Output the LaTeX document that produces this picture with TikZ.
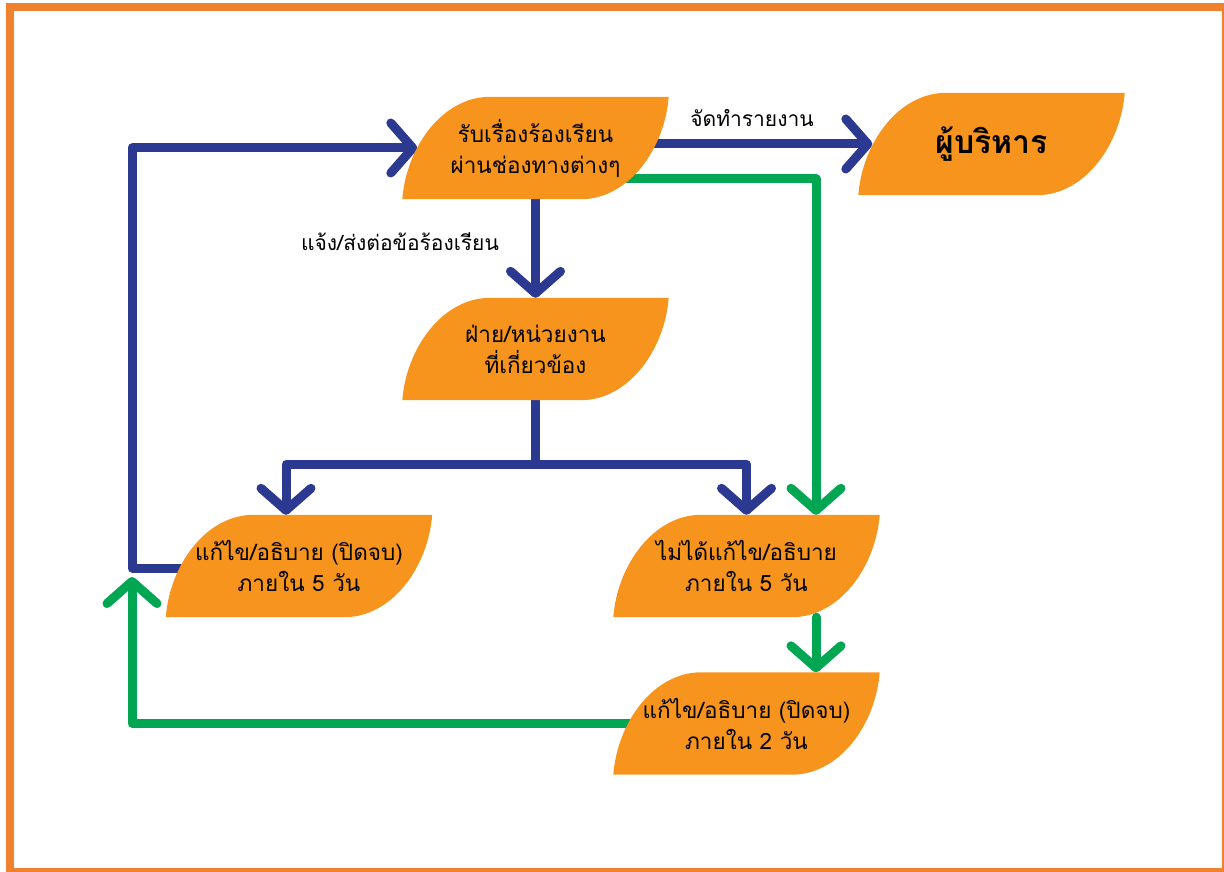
\documentclass[tikz,border=0pt]{standalone}
\usepackage{fontspec}
\newfontfamily\thai[Script=Thai]{Loma}
\usetikzlibrary{arrows.meta,calc}
\definecolor{leafc}{HTML}{F7941D}
\definecolor{bluec}{HTML}{2B3990}
\definecolor{greenc}{HTML}{00A651}
\definecolor{framec}{HTML}{F0812F}
\pgfdeclarelayer{bg}
\pgfdeclarelayer{leaves}
\pgfsetlayers{bg,leaves,main}
\newcommand\leafshape[1]{%
  \fill[leafc] (#1.south west) .. controls ($(#1.south west)+(4pt,52pt)$) and ($(#1.north west)+(40pt,0pt)$) .. ($(#1.north west)+(88pt,0pt)$)
    -- (#1.north east) .. controls ($(#1.north east)+(-4pt,-52pt)$) and ($(#1.south east)+(-40pt,0pt)$) .. ($(#1.south east)+(-88pt,0pt)$) -- cycle;}
\begin{document}
\begin{tikzpicture}[x=1pt,y=-1pt,
  box/.style={minimum width=266pt,minimum height=102pt,inner sep=0pt,align=center,font=\thai\fontsize{22.5}{31}\selectfont},
  lbl/.style={font=\thai\fontsize{21}{26}\selectfont,inner sep=0pt},
  conn/.style={line width=9pt,line join=round,line cap=round},
  bl/.style={conn,draw=bluec},
  gr/.style={conn,draw=greenc},
  arr/.style={-{Straight Barb[length=22pt,width=50pt,round]}}]
\useasboundingbox (0,0) rectangle (1224,872);
\draw[framec,line width=8pt] (10,7) rectangle (1226,872);

\node[box] (b1) at (535.5,148) {รับเรื่องร้องเรียน\\ผ่านช่องทางต่างๆ};
\node[box,font=\thai\bfseries\fontsize{32}{36}\selectfont] (b2) at (991.5,144) {ผู้บริหาร};
\node[box] (b3) at (535.5,349) {ฝ่าย/หน่วยงาน\\ที่เกี่ยวข้อง};
\node[box] (b4) at (299,566) {แก้ไข/อธิบาย (ปิดจบ)\\ภายใน 5 วัน};
\node[box] (b5) at (746.5,566) {ไม่ได้แก้ไข/อธิบาย\\ภายใน 5 วัน};
\node[box] (b6) at (746.5,723.5) {แก้ไข/อธิบาย (ปิดจบ)\\ภายใน 2 วัน};

\node[lbl] (l1) at (752,118) {จัดทำรายงาน};
\node[lbl] (l2) at (400,242) {แจ้ง/ส่งต่อข้อร้องเรียน};

\begin{pgfonlayer}{leaves}
\foreach \n in {b1,b2,b3,b4,b5,b6} {\leafshape{\n}}
\end{pgfonlayer}

\coordinate (c1) at (132,148);
\coordinate (c2) at (132,577);
\coordinate (g1) at (816,179);
\coordinate (j) at (535.5,464);

\begin{pgfonlayer}{bg}
\draw[gr,arr] (b6.center) -| (c2);
\draw[bl,arr] ($(b4.center)+(0pt,-2pt)$) -| (c1) -- ($(b1.west)+(15pt,0pt)$);
\draw[bl,arr] (b1.center |- b2.west) -- ($(b2.west)+(14pt,0pt)$);
\draw[gr,arr] ($(b1.center)+(0pt,-31pt)$) -- (g1) -- ($(b5.north)+(69.5pt,0pt)$);
\draw[bl,arr] (b1.south) -- (b3.north);
\draw[bl] (b3.south) -- (j);
\draw[bl,arr] (j) -| ($(b4.north)+(-13pt,0pt)$);
\draw[bl,arr] (j) -| (b5.north);
\draw[gr,arr] ($(b5.south)+(69.5pt,0pt)$) -- ($(b6.north)+(69.5pt,0pt)$);
\end{pgfonlayer}
\end{tikzpicture}
\end{document}
